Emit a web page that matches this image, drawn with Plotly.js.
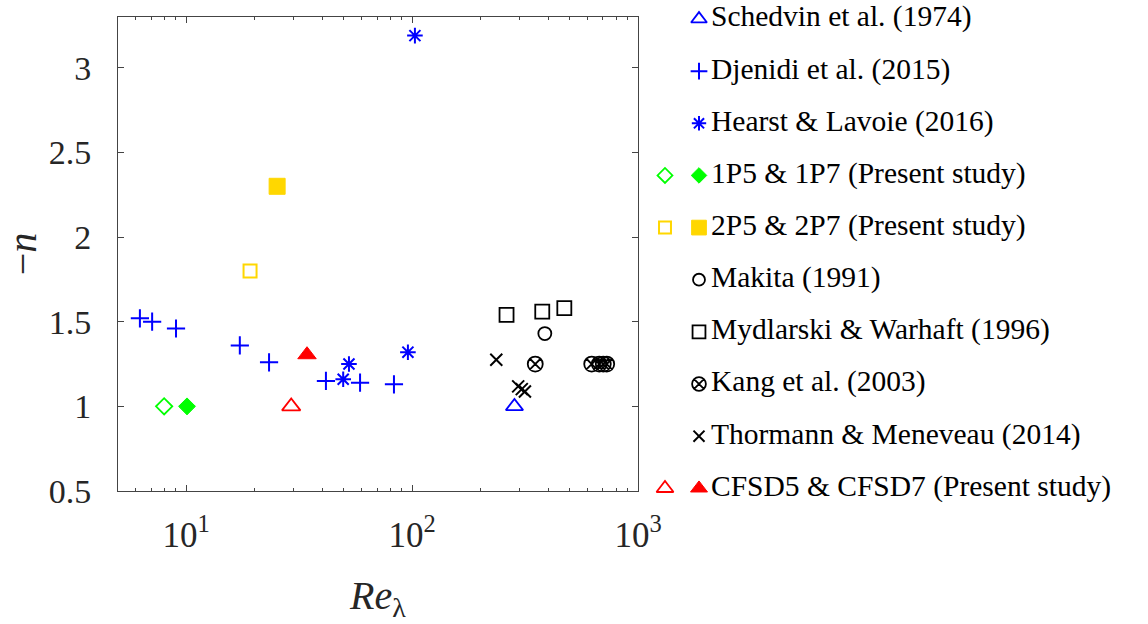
<!DOCTYPE html>
<html><head><meta charset="utf-8">
<script src="https://cdn.plot.ly/plotly-3.0.1.min.js"></script>
<style>html,body{margin:0;padding:0;background:#fff}#chart{width:1148px;height:624px}</style>
</head><body><div id="chart"></div>
<script>
// ---- data (Re_lambda, -n) ----
const schedvinRe = [284];
const schedvinN  = [1.0];
const djenidiRe  = [6.25, 7.08, 9.03, 17.3, 23.3, 41.6, 58.9, 83.2];
const djenidiN   = [1.52, 1.50, 1.46, 1.36, 1.26, 1.15, 1.14, 1.13];
const hearstRe   = [49.6, 52.6, 95.9, 103];
const hearstN    = [1.16, 1.25, 1.32, 3.19];
const p1p5Re = [8.0];  const p1p5N = [1.0];
const p1p7Re = [10.1]; const p1p7N = [1.0];
const p2p5Re = [19.2]; const p2p5N = [1.80];
const p2p7Re = [25.3]; const p2p7N = [2.30];
const makitaRe = [387]; const makitaN = [1.43];
const mydlRe = [262, 377, 472]; const mydlN = [1.54, 1.56, 1.58];
const kangRe = [351, 624, 674, 702, 727]; const kangN = [1.25, 1.25, 1.25, 1.25, 1.25];
const thorRe = [236, 295, 306, 316]; const thorN = [1.275, 1.118, 1.102, 1.088];
const cfsd5Re = [29.2]; const cfsd5N = [1.0];
const cfsd7Re = [34.3]; const cfsd7N = [1.305];

const xTickVals = [10, 100, 1000];
const xTickText = ['10<sup>1</sup>', '10<sup>2</sup>', '10<sup>3</sup>'];
const yTickVals = [0.5, 1, 1.5, 2, 2.5, 3];
const yTickText = ['0.5', '1', '1.5', '2', '2.5', '3'];

const legendLabels = [
  'Schedvin et al. (1974)',
  'Djenidi et al. (2015)',
  'Hearst &amp; Lavoie (2016)',
  '1P5 &amp; 1P7 (Present study)',
  '2P5 &amp; 2P7 (Present study)',
  'Makita (1991)',
  'Mydlarski &amp; Warhaft (1996)',
  'Kang et al. (2003)',
  'Thormann &amp; Meneveau (2014)',
  'CFSD5 &amp; CFSD7 (Present study)'
];

// ---- styles ----
const BLUE = '#0000FF', GREEN = '#00FF00', GOLD = '#FFD700', RED = '#FF0000', BLACK = '#000000';
const FONT = 'Liberation Serif, Times New Roman, serif';

// series: data + style + legend row + key slot (0 = open slot on the left, 1 = main slot)
const series = [
  {x: schedvinRe, y: schedvinN, symbol: 'triangle-up-open', color: BLUE,  size: 15, lw: 1.8, row: 0, slot: 1},
  {x: djenidiRe,  y: djenidiN,  symbol: 'cross-thin-open',  color: BLUE,  size: 13, lw: 2,   row: 1, slot: 1},
  {x: hearstRe,   y: hearstN,   symbol: 'asterisk-open',    color: BLUE,  size: 13, lw: 2,   row: 2, slot: 1},
  {x: p1p5Re,     y: p1p5N,     symbol: 'diamond-open',     color: GREEN, size: 12.5, lw: 1.8, row: 3, slot: 0},
  {x: p1p7Re,     y: p1p7N,     symbol: 'diamond',          color: GREEN, size: 13, lw: 1,   row: 3, slot: 1},
  {x: p2p5Re,     y: p2p5N,     symbol: 'square-open',      color: GOLD,  size: 13, lw: 2,   row: 4, slot: 0},
  {x: p2p7Re,     y: p2p7N,     symbol: 'square',           color: GOLD,  size: 16, lw: 1,   row: 4, slot: 1},
  {x: makitaRe,   y: makitaN,   symbol: 'circle-open',      color: BLACK, size: 13, lw: 1.8, row: 5, slot: 1},
  {x: mydlRe,     y: mydlN,     symbol: 'square-open',      color: BLACK, size: 14, lw: 1.8, row: 6, slot: 1},
  {x: kangRe,     y: kangN,     symbol: 'circle-x-open',    color: BLACK, size: 15, lw: 1.8, row: 7, slot: 1},
  {x: thorRe,     y: thorN,     symbol: 'x-thin-open',      color: BLACK, size: 12, lw: 2,   row: 8, slot: 1},
  {x: cfsd5Re,    y: cfsd5N,    symbol: 'triangle-up-open', color: RED,   size: 16, lw: 1.8, row: 9, slot: 0},
  {x: cfsd7Re,    y: cfsd7N,    symbol: 'triangle-up',      color: RED,   size: 16, lw: 1,   row: 9, slot: 1}
];

// ---- geometry ----
const W = 1148, H = 624;
const mL = 118, mR = 6, mT = 17, mB = 132.5;
const plotW = W - mL - mR;
const plotH = H - mT - mB;
const axRight = 638;                  // right edge of the main axes (px)
const legLeft = 650, legRight = 1142; // legend panel (px)
const rowStep = 52.2;
const firstRowPx = 19;                // centre of the first legend row (px from top)
const keyX = [665, 699];
const textX = 711;

const traces = [];
series.forEach(s => {
  traces.push({
    type: 'scatter', mode: 'markers', x: s.x, y: s.y, xaxis: 'x', yaxis: 'y',
    showlegend: false, cliponaxis: false, hoverinfo: 'skip',
    marker: {symbol: s.symbol, size: s.size, color: s.color, line: {color: s.color, width: s.lw}}
  });
});
// custom legend keys
series.forEach(s => {
  traces.push({
    type: 'scatter', mode: 'markers', x: [keyX[s.slot]], y: [s.row], xaxis: 'x2', yaxis: 'y2',
    showlegend: false, cliponaxis: false, hoverinfo: 'skip',
    marker: {symbol: s.symbol, size: s.size * 0.92, color: s.color, line: {color: s.color, width: s.lw}}
  });
});
// legend text
traces.push({
  type: 'scatter', mode: 'text', x: legendLabels.map(() => textX), y: legendLabels.map((_, i) => i),
  text: legendLabels, textposition: 'middle right', xaxis: 'x2', yaxis: 'y2',
  showlegend: false, cliponaxis: false, hoverinfo: 'skip',
  textfont: {family: FONT, size: 29.5, color: '#000'}
});

const minorX = [];
[1, 10, 100].forEach(d => { for (let k = 2; k <= 9; k++) { const v = k * d; if (v >= 5 && v < 1000) minorX.push(v); } });

const AX = '#444';
const TXT = '#262626';
const rowTop = -(firstRowPx - mT) / rowStep;
const layout = {
  width: W, height: H,
  margin: {l: mL, r: mR, t: mT, b: mB, pad: 0},
  paper_bgcolor: '#fff', plot_bgcolor: 'rgba(0,0,0,0)',
  showlegend: false,
  font: {family: FONT, color: TXT},
  xaxis: {
    type: 'log', range: [Math.log10(5), 3], domain: [0, (axRight - mL) / plotW], anchor: 'y',
    tickmode: 'array', tickvals: xTickVals, ticktext: xTickText,
    ticks: 'inside', ticklen: 6, tickwidth: 1, tickcolor: AX,
    showline: true, linecolor: AX, linewidth: 1, mirror: 'ticks',
    showgrid: false, zeroline: false,
    minor: {tickmode: 'array', tickvals: minorX, ticks: 'inside', ticklen: 3, tickcolor: AX, showgrid: false},
    tickfont: {family: FONT, size: 35, color: TXT},
    ticklabelstandoff: 13,
    title: {text: '<i>Re</i><sub>λ</sub>', font: {family: FONT, size: 40, color: TXT}, standoff: 26}
  },
  yaxis: {
    range: [0.5, 3.3], domain: [0, 1], anchor: 'x',
    tickmode: 'array', tickvals: yTickVals, ticktext: yTickText,
    ticks: 'inside', ticklen: 6, tickwidth: 1, tickcolor: AX,
    showline: true, linecolor: AX, linewidth: 1, mirror: 'ticks',
    showgrid: false, zeroline: false,
    tickfont: {family: FONT, size: 34, color: TXT},
    ticklabelstandoff: 19,
    title: {text: '−<i>n</i>', font: {family: FONT, size: 40, color: TXT}, standoff: 20}
  },
  xaxis2: {
    domain: [(legLeft - mL) / plotW, 1], range: [legLeft, legRight], anchor: 'y2',
    visible: false, fixedrange: true
  },
  yaxis2: {
    domain: [0, 1], range: [rowTop + plotH / rowStep, rowTop], anchor: 'x2',
    visible: false, fixedrange: true
  }
};

Plotly.newPlot('chart', traces, layout, {displayModeBar: false, staticPlot: true});
</script>
</body></html>
